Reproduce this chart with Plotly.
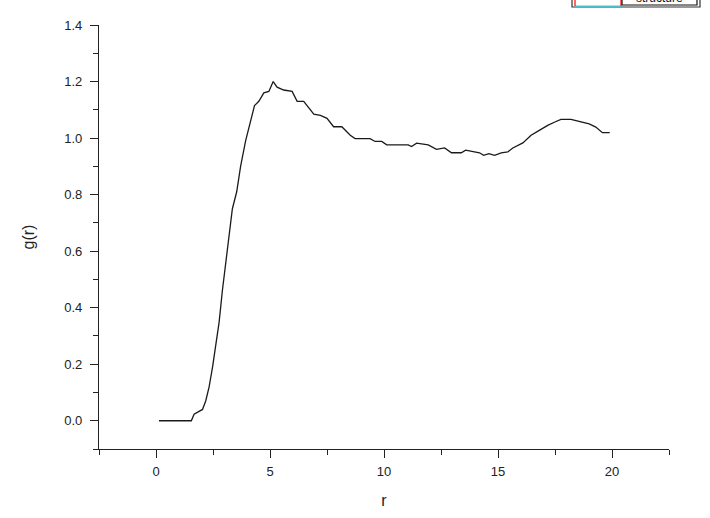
import plotly.graph_objects as go

r_vals = [0.13, 0.5, 1.0, 1.55, 1.67, 1.82, 2.04, 2.18, 2.33, 2.48, 2.62, 2.77, 2.91,
          3.06, 3.2, 3.35, 3.54, 3.71, 3.93, 4.15, 4.32, 4.51, 4.73, 4.95, 5.14, 5.31,
          5.6, 5.97, 6.19, 6.48, 6.92, 7.21, 7.5, 7.79, 8.15, 8.52, 8.73, 9.39, 9.61,
          9.9, 10.12, 11.06, 11.21, 11.43, 11.94, 12.3, 12.66, 12.96, 13.39, 13.58,
          14.19, 14.37, 14.6, 14.85, 15.14, 15.43, 15.65, 16.09, 16.45, 16.81, 17.18,
          17.47, 17.76, 18.2, 18.56, 19.0, 19.29, 19.58, 19.9]
g_vals = [0.0, 0.0, 0.0, 0.0, 0.023, 0.03, 0.04, 0.07, 0.12, 0.19, 0.27, 0.35, 0.46,
          0.56, 0.67, 0.75, 0.81, 0.90, 0.99, 1.06, 1.115, 1.13, 1.16, 1.165, 1.20, 1.18,
          1.17, 1.165, 1.13, 1.13, 1.085, 1.08, 1.07, 1.04, 1.04, 1.01, 0.998, 0.998, 0.988,
          0.988, 0.976, 0.976, 0.97, 0.982, 0.976, 0.96, 0.965, 0.948, 0.948, 0.957,
          0.948, 0.939, 0.945, 0.939, 0.948, 0.951, 0.965, 0.983, 1.01, 1.027, 1.045,
          1.056, 1.066, 1.066, 1.059, 1.05, 1.039, 1.019, 1.019]

x_ticks = [0, 5, 10, 15, 20]
y_ticks = [0.0, 0.2, 0.4, 0.6, 0.8, 1.0, 1.2, 1.4]
y_tick_text = ["0.0", "0.2", "0.4", "0.6", "0.8", "1.0", "1.2", "1.4"]
legend_text = "structure"

fig = go.Figure()
fig.add_trace(go.Scatter(x=r_vals, y=g_vals, mode="lines",
                         line=dict(color="#1a1a1a", width=1.3), showlegend=False))

axis_common = dict(
    showline=True, linecolor="#222", linewidth=1.3, mirror=False,
    showgrid=False, zeroline=False, automargin=False,
    ticks="outside", ticklen=8, tickwidth=1.2, tickcolor="#222",
    tickfont=dict(family="Liberation Sans, Arial", size=13, color="#222"),
)

fig.update_xaxes(range=[-2.5, 22.5], tickvals=x_ticks, ticklabelstandoff=2,
                 minor=dict(ticks="outside", ticklen=5, tickwidth=1.2, tickcolor="#222",
                            dtick=2.5, tick0=-2.5),
                 title=dict(text="r", font=dict(family="Liberation Sans, Arial", size=16, color="#222"),
                            standoff=17),
                 **axis_common)
fig.update_yaxes(range=[-0.1, 1.4], tickvals=y_ticks, ticktext=y_tick_text, ticklabelstandoff=5,
                 minor=dict(ticks="outside", ticklen=5, tickwidth=1.2, tickcolor="#222",
                            dtick=0.1, tick0=0),
                 title=dict(text="g(r)", font=dict(family="Liberation Sans, Arial", size=16, color="#222"),
                            standoff=25),
                 **axis_common)

# Legend box, partly outside the top of the page (as in the reference)
def px_x(p):
    return (p - 99) / 570.0

def px_y(p):
    return (449 - p) / 424.0

fig.add_shape(type="rect", xref="paper", yref="paper",
              x0=px_x(572), x1=px_x(700), y0=px_y(7), y1=px_y(-10),
              line=dict(color="#333", width=1.2), fillcolor="white")
fig.add_shape(type="line", xref="paper", yref="paper",
              x0=px_x(575), x1=px_x(621), y0=px_y(6), y1=px_y(6),
              line=dict(color="#00e5ff", width=1.2))
fig.add_shape(type="line", xref="paper", yref="paper",
              x0=px_x(575), x1=px_x(575), y0=px_y(6), y1=px_y(-10),
              line=dict(color="red", width=1.2))
fig.add_shape(type="line", xref="paper", yref="paper",
              x0=px_x(621), x1=px_x(621), y0=px_y(6), y1=px_y(-10),
              line=dict(color="red", width=1.2))
fig.add_shape(type="rect", xref="paper", yref="paper",
              x0=px_x(622), x1=px_x(697), y0=px_y(5), y1=px_y(-10),
              line=dict(color="#111", width=1.2), fillcolor="white")
fig.add_annotation(xref="paper", yref="paper", x=px_x(659), y=px_y(7),
                   text=legend_text, showarrow=False, xanchor="center", yanchor="bottom",
                   font=dict(family="Liberation Sans, Arial", size=12, color="#111"))

fig.update_layout(
    width=710, height=518,
    margin=dict(l=99, r=41, t=25, b=69),
    plot_bgcolor="white", paper_bgcolor="white",
)

fig.write_html("out.html", config={"displayModeBar": False},
               post_script="document.body.style.margin='0';document.body.style.padding='0';")
